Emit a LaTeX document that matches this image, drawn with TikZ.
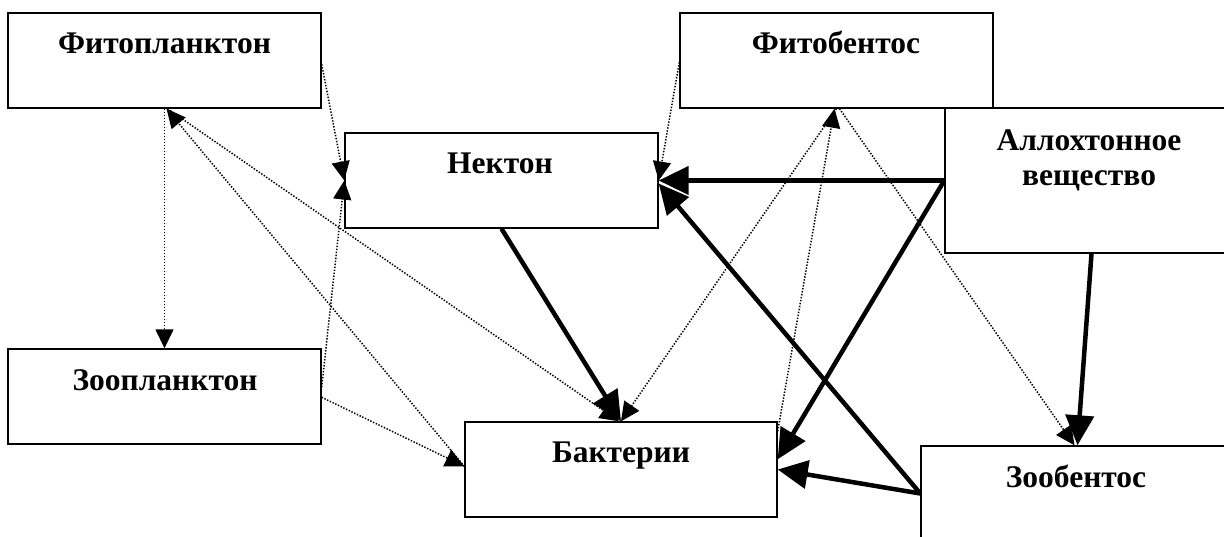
\documentclass[tikz,border=0pt]{standalone}
\usepackage{fontspec}
\setmainfont{Liberation Serif}
\usetikzlibrary{arrows.meta,calc}
\begin{document}
\begin{tikzpicture}[x=1pt,y=-1pt,
  box/.style={draw,line width=1.4pt,fill=white,rectangle,
    minimum width=313pt,minimum height=95pt,inner sep=0pt},
  lbl/.style={font=\fontsize{31.5}{34}\selectfont\bfseries,anchor=base,inner sep=0pt},
  flowdot/.style={line width=1.5pt,dash pattern=on 1.4pt off 1.6pt,
    -{Triangle[length=19pt,width=18pt]}},
  flowbold/.style={line width=4.5pt,-{Triangle[length=30pt,width=28pt]}}]
\clip (0,0) rectangle (1224,536);
\fill[white] (0,0) rectangle (1224,536);

% boxes
\node[box] (fitopl) at (164.5,60.5) {};
\node[box] (nekton) at (501.5,180.5) {};
\node[box] (fitob)  at (836.5,60.5) {};
\node[box,minimum height=145pt] (alloch) at (1101.5,180.5) {};
\node[box] (zoopl)  at (164.5,396.5) {};
\node[box,minimum width=312pt] (bakt) at (621,469.5) {};
\node[box] (zoob)   at (1077.5,493.5) {};

% labels
\node[lbl] (fitopl-t) at (164.5,53) {Фитопланктон};
\node[lbl] (nekton-t) at (500,173) {Нектон};
\node[lbl] (fitob-t)  at (836,53) {Фитобентос};
\node[lbl] (alloch-t1) at (1089,150) {Аллохтонное};
\node[lbl] (alloch-t2) at (1089,185) {вещество};
\node[lbl] (zoopl-t)  at (165,390) {Зоопланктон};
\node[lbl] (bakt-t)   at (621,462) {Бактерии};
\node[lbl] (zoob-t)   at (1076,487) {Зообентос};

% dotted links
\draw[flowdot] (fitopl.south) -- (zoopl.north);
\draw[flowdot] ($(fitopl.north east)+(0,52)$) -- (nekton.west);
\draw[flowdot] ($(zoopl.north east)+(0,39)$) -- (nekton.west);
\draw[flowdot] ($(zoopl.north east)+(0,49)$) -- ($(bakt.north west)+(0,45)$);
\draw[flowdot] ($(bakt.north west)+(0,45)$) -- ($(fitopl.south)+(2,0)$);
\draw[flowdot] ($(fitopl.south)+(3,0)$) -- ($(bakt.north)+(-2,0)$);
\draw[flowdot] ($(fitob.north west)+(0,50)$) -- (nekton.east);
\draw[flowdot] (fitob.south) -- (bakt.north);
\draw[flowdot] ($(bakt.north east)+(0,10)$) -- ($(fitob.south)+(-2,0)$);
\draw[flowdot] ($(fitob.south)+(3,0)$) -- ($(zoob.north)+(-3,0)$);

% bold links
\draw[flowbold] (nekton.south) -- (bakt.north);
\draw[flowbold] (alloch.west) -- (nekton.east);
\draw[flowbold] (alloch.west) -- ($(bakt.north east)+(0,38)$);
\draw[flowbold] (zoob.west) -- ($(nekton.east)+(0,3)$);
\draw[flowbold] (zoob.west) -- (bakt.east);
\draw[flowbold] ($(alloch.south)+(-10,0)$) -- (zoob.north);
\end{tikzpicture}
\end{document}
